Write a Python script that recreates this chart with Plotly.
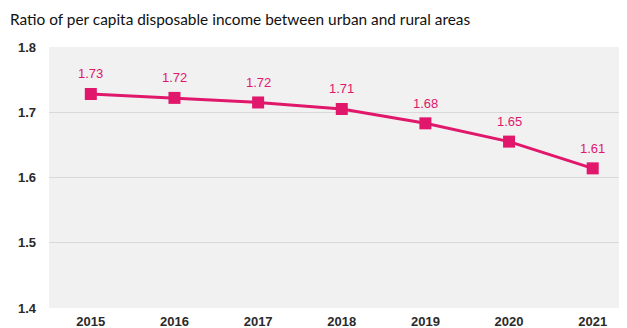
import plotly.graph_objects as go

years = ["2015", "2016", "2017", "2018", "2019", "2020", "2021"]
ratio = [1.728, 1.722, 1.715, 1.705, 1.683, 1.655, 1.614]
labels = ["1.73", "1.72", "1.72", "1.71", "1.68", "1.65", "1.61"]
yticks = [1.4, 1.5, 1.6, 1.7, 1.8]

pink = "#e0176b"
xs = list(range(len(years)))

# page body has an 8px margin; figure is sized/offset to fill the 627x328 window
W, H, OFF = 619, 320, 8

fig = go.Figure()
fig.add_trace(go.Scatter(
    x=xs, y=ratio, mode="lines+markers",
    line=dict(color=pink, width=3),
    marker=dict(symbol="square", size=12, color=pink),
    hoverinfo="skip",
))

for xi, yi, lab in zip(xs, ratio, labels):
    fig.add_annotation(x=xi, y=yi, text=lab, showarrow=False, yshift=20,
                       xanchor="center", yanchor="middle",
                       font=dict(family="Liberation Sans", size=13, color=pink))

fig.update_layout(
    width=W, height=H,
    margin=dict(l=49 - OFF, r=0, t=47 - OFF, b=20),
    paper_bgcolor="white", plot_bgcolor="#f1f1f1",
    showlegend=False,
    title=dict(text="Ratio of per capita disposable income between urban and rural areas",
               x=2 / W, xanchor="left", y=1 - (20 - OFF) / H, yanchor="middle",
               font=dict(family="Lato", size=15.4, color="#111111")),
    xaxis=dict(range=[-0.5, 6.41], tickvals=xs, ticktext=years, showgrid=False, zeroline=False,
               showline=False, ticks="", fixedrange=True, ticklabelstandoff=4,
               tickfont=dict(family="Liberation Sans", size=13, color="#2a2a2a", weight="bold")),
    yaxis=dict(range=[1.4, 1.8], tickvals=yticks, ticktext=[f"{v:.1f}" for v in yticks],
               showgrid=True, gridcolor="#d9d9d9", gridwidth=1, zeroline=False, showline=False,
               ticks="", ticklabelstandoff=12,
               tickfont=dict(family="Liberation Sans", size=13, color="#2a2a2a", weight="bold")),
)

fig.write_html("out.html")
